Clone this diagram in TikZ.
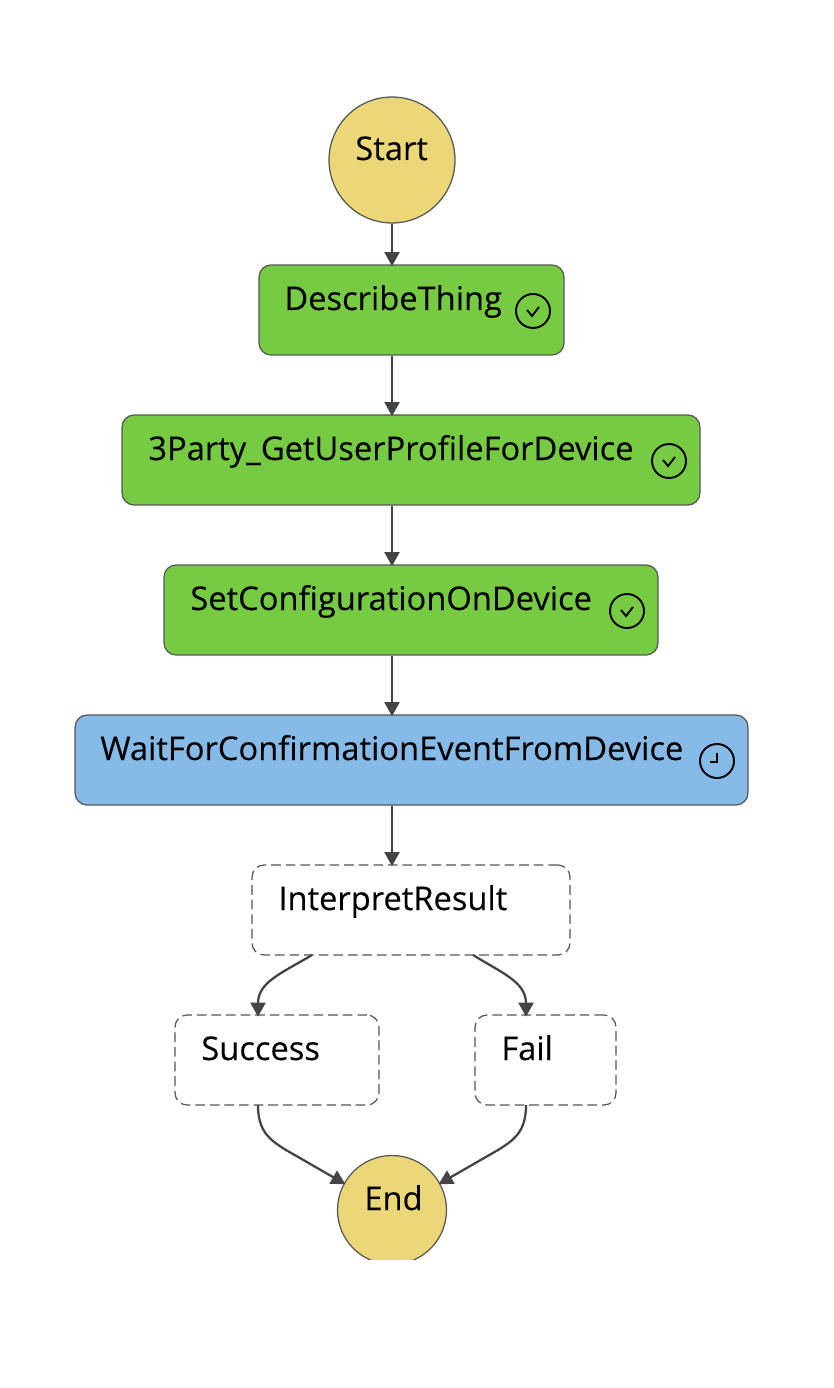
\documentclass[tikz,border=0pt]{standalone}
\usepackage{fontspec}
\setmainfont{Open Sans}[BoldFont=Open Sans,BoldFeatures={FakeBold=0.2}]
\usetikzlibrary{arrows.meta}
\definecolor{startyellow}{HTML}{EBD778}
\definecolor{donegreen}{HTML}{77CB42}
\definecolor{waitblue}{HTML}{85BBE6}
\definecolor{edgegray}{HTML}{444444}
\definecolor{rimgray}{HTML}{555555}
\tikzset{
  state/.style={draw=rimgray,line width=0.7pt,circle,fill=startyellow,inner sep=0pt},
  box/.style={draw=rimgray,line width=0.7pt,rounded corners=0.24cm,minimum height=1.8cm,inner sep=0pt},
  donebox/.style={box,fill=donegreen},
  waitbox/.style={box,fill=waitblue},
  openbox/.style={box,dash pattern=on 5.5pt off 2.8pt,fill=white},
  lbl/.style={anchor=base west,inner sep=0pt,font=\fontsize{18.6}{20}\selectfont\bfseries,text=black},
  ring/.style={draw=black,line width=1.1pt,circle,minimum size=0.68cm,inner sep=0pt},
  tick/.style={draw=black,line width=1.1pt},
  flow/.style={-{Triangle[length=8pt,width=8.5pt]},draw=edgegray,line width=1.3pt,shorten >=-1pt},
}
\begin{document}
\begin{tikzpicture}[x=0.02cm,y=-0.02cm]
\useasboundingbox (0,0) rectangle (834,1388);

\node[state,minimum size=2.52cm] (start) at (392,160) {};
\node[state,minimum size=2.18cm] (finish) at (392,1210) {};
\fill[white] (300,1260) rectangle (480,1300);

\node[donebox,minimum width=6.1cm] (describe) at (411.5,310) {};
\node[donebox,minimum width=11.56cm] (party) at (411,460) {};
\node[donebox,minimum width=9.88cm] (config) at (411,610) {};
\node[waitbox,minimum width=13.46cm] (wait) at (411.5,760) {};
\node[openbox,minimum width=6.36cm] (interpret) at (411,910) {};
\node[openbox,minimum width=4.08cm] (success) at (277,1060) {};
\node[openbox,minimum width=2.82cm] (fail) at (545.5,1060) {};

\node[lbl] (startT) at (355,160) {Start};
\node[lbl] (describeT) at (284,310) {DescribeThing};
\node[lbl] (partyT) at (148,460) {3Party\_GetUserProfileForDevice};
\node[lbl] (configT) at (190,610) {SetConfigurationOnDevice};
\node[lbl] (waitT) at (100,760) {WaitForConfirmationEventFromDevice};
\node[lbl] (interpretT) at (278,910) {InterpretResult};
\node[lbl] (successT) at (201,1060) {Success};
\node[lbl] (failT) at (501,1060) {Fail};
\node[lbl] (finishT) at (364,1210) {End};

% status icons
\foreach \name/\cx/\cy in {describeI/533/311,partyI/669/461,configI/627/611}{
  \node[ring] (\name) at (\cx,\cy) {};
  \draw[tick] (\cx-6,\cy-1) -- (\cx-1,\cy+5) -- (\cx+6,\cy-4);
}
\node[ring] (waitI) at (717,761) {};
\draw[tick] (717,753) -- (717,762) -- (710,762);

\coordinate (outL) at (312,955);
\coordinate (outR) at (473,955);
\coordinate (inL) at (258,1015);
\coordinate (inR) at (526,1015);
\coordinate (downL) at (258,1105);
\coordinate (downR) at (526,1105);

\draw[flow] (start.south) -- (start.south |- describe.north);
\draw[flow] (start.south |- describe.south) -- (start.south |- party.north);
\draw[flow] (start.south |- party.south) -- (start.south |- config.north);
\draw[flow] (start.south |- config.south) -- (start.south |- wait.north);
\draw[flow] (start.south |- wait.south) -- (start.south |- interpret.north);
\draw[flow] (outL) .. controls (282,973) and (258,982) .. (inL);
\draw[flow] (outR) .. controls (502,973) and (526,982) .. (inR);
\draw[flow] (downL) .. controls (258,1130) and (268,1139) .. (286,1150) -- (finish.151);
\draw[flow] (downR) .. controls (526,1130) and (516,1139) .. (498,1150) -- (finish.29);
\end{tikzpicture}
\end{document}
